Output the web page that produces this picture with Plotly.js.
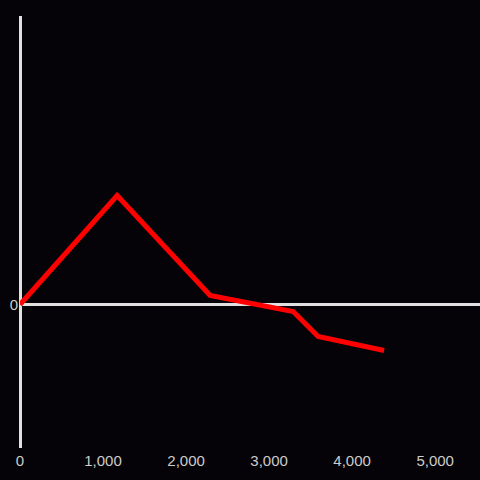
<!DOCTYPE html>
<html>
<head>
<meta charset="utf-8">
<script src="https://cdn.plot.ly/plotly-3.0.1.min.js"></script>
<style>html,body{margin:0;padding:0;background:#050307;}</style>
</head>
<body>
<div id="chart" style="width:480px;height:480px;"></div>
<script>
var xValues = [0, 1170, 2290, 3290, 3590, 4385];
var yValues = [0, 109, 9, -7, -32, -46];
var xTickVals = [0, 1000, 2000, 3000, 4000, 5000];
var yTickVals = [0];

Plotly.newPlot('chart', [{
  x: xValues,
  y: yValues,
  type: 'scatter',
  mode: 'lines',
  line: {color: '#ff0000', width: 5},
  hoverinfo: 'none'
}], {
  width: 480, height: 480,
  paper_bgcolor: '#050307',
  plot_bgcolor: '#050307',
  margin: {l: 20, r: 0, t: 16, b: 32},
  showlegend: false,
  font: {family: 'Liberation Sans, Arial, sans-serif', size: 15, color: '#cccccc'},
  xaxis: {
    range: [0, 5540],
    tickvals: xTickVals,
    tickformat: ',d',
    showgrid: false,
    zeroline: true,
    zerolinecolor: '#e0e0e0',
    zerolinewidth: 3,
    showline: false,
    ticks: '',
    ticklabelstandoff: 2
  },
  yaxis: {
    range: [-143.5, 288.5],
    tickvals: yTickVals,
    showgrid: false,
    zeroline: true,
    zerolinecolor: '#e0e0e0',
    zerolinewidth: 3,
    showline: false,
    ticks: '',
    ticklabelstandoff: 1
  }
}, {displayModeBar: false, staticPlot: true});
</script>
</body>
</html>
